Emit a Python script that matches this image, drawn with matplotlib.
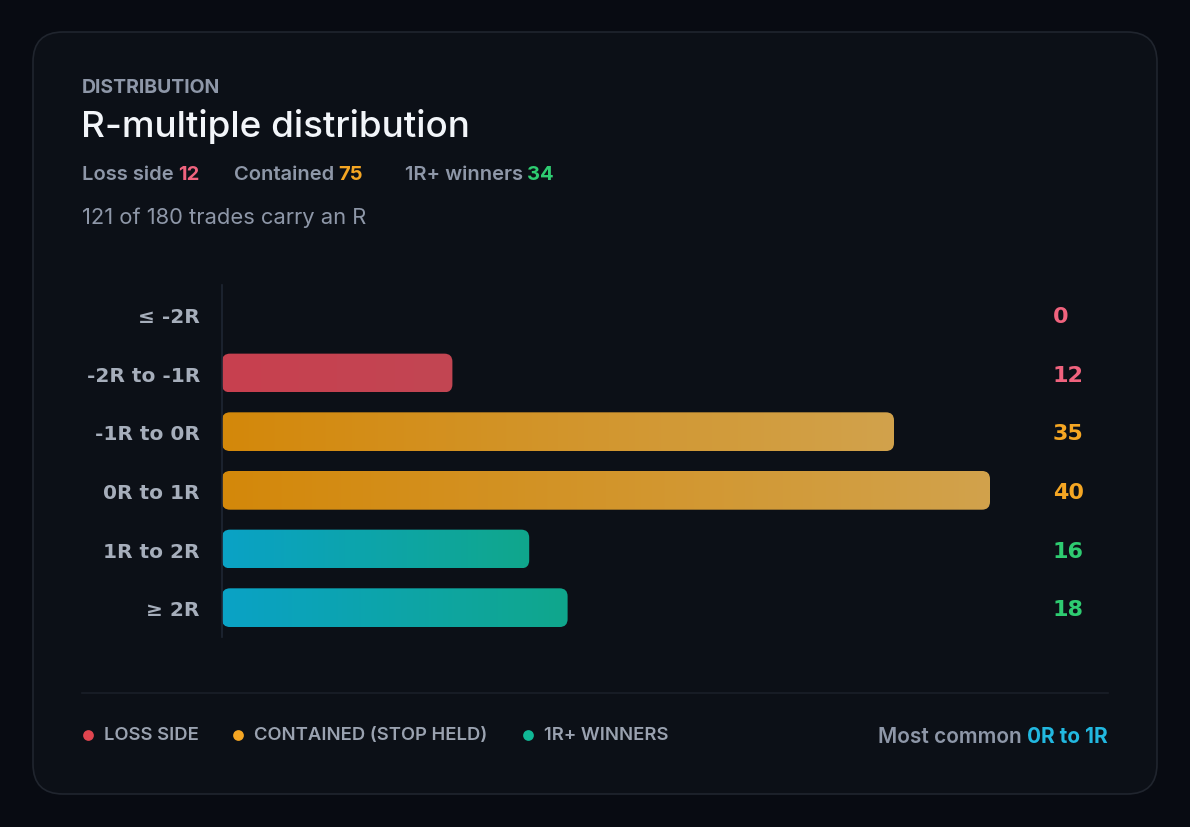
import numpy as np
import matplotlib
matplotlib.use("Agg")
import matplotlib.pyplot as plt
from matplotlib.patches import FancyBboxPatch
from matplotlib.colors import to_rgb

# --- data ---------------------------------------------------------------
buckets = ["≤ -2R", "-2R to -1R", "-1R to 0R", "0R to 1R", "1R to 2R", "≥ 2R"]
counts = [0, 12, 35, 40, 16, 18]
groups = ["loss", "loss", "contained", "contained", "win", "win"]
summary_labels = ["Loss side", "Contained", "1R+ winners"]
summary_values = [12, 75, 34]
legend_labels = ["LOSS SIDE", "CONTAINED (STOP HELD)", "1R+ WINNERS"]
total_trades = 180
most_common = "0R to 1R"

# --- styles -------------------------------------------------------------
W, H = 1190, 828
BG = "#080b12"
CARD = "#0c1017"
CARD_EDGE = "#20252e"
MUTED = "#8e97a8"
TICK = "#a6aebb"
grad = {"loss": ("#c8404f", "#c24653"),
        "contained": ("#d4880a", "#d1a24c"),
        "win": ("#0aa2c6", "#10a78c")}
txt_col = {"loss": "#f0637e", "contained": "#f5a623", "win": "#2ecc71"}
dot_col = {"loss": "#e0454f", "contained": "#f5a623", "win": "#10b896"}
HEAD = ["Inter", "Lato", "DejaVu Sans"]

fig = plt.figure(figsize=(W / 100, H / 100), dpi=100, facecolor=BG)

# pixel-space overlay for the card and text
bg = fig.add_axes([0, 0, 1, 1], zorder=0)
bg.set_xlim(0, W)
bg.set_ylim(H, 0)
bg.axis("off")
bg.add_patch(FancyBboxPatch((33, 33), 1124, 762,
                            boxstyle="round,pad=0,rounding_size=30",
                            fc=CARD, ec=CARD_EDGE, lw=1.2))

bg.text(82, 88, "DISTRIBUTION", fontsize=14, fontweight="bold",
        color=MUTED, family=HEAD, va="center")
bg.text(81, 127, "R-multiple distribution", fontsize=26.5, fontweight="medium",
        color="#f2f5f9", family=HEAD, va="center")

# summary line: label + coloured number pieces
xs = [82, 234, 405]
for x, lab, val, g in zip(xs, summary_labels, summary_values,
                          ["loss", "contained", "win"]):
    t = bg.text(x, 175, lab, fontsize=14.5, fontweight="semibold",
                color=MUTED, family=HEAD, va="center")
    bg.annotate(str(val), xy=(1, 0.5), xycoords=t, xytext=(3, 0),
                textcoords="offset points", va="center", fontsize=14.5,
                fontweight="bold", color=txt_col[g], family=HEAD)

carried = sum(counts)
bg.text(82, 218, f"{carried} of {total_trades} trades carry an R", fontsize=15.8,
        color=MUTED, family=HEAD, va="center")

# separator + legend
bg.plot([82, 1108], [694, 694], color="#1a1f28", lw=1.2)
for x, lab, g in zip([88, 238, 528], legend_labels,
                     ["loss", "contained", "win"]):
    bg.scatter([x], [736], s=60, color=dot_col[g], lw=0)
    bg.text(x + 16, 736, lab, fontsize=13.3, fontweight="semibold",
            color="#9aa2b0", family=HEAD, va="center")
mc = bg.text(1108, 737, most_common, fontsize=15, fontweight="bold",
             color="#22b8e0", family=HEAD, va="center", ha="right")
bg.annotate("Most common ", xy=(0, 0.5), xycoords=mc, xytext=(0, 0),
            textcoords="offset points", va="center", ha="right", fontsize=15,
            fontweight="semibold", color=MUTED, family=HEAD)

# --- bar chart ----------------------------------------------------------
xmax = 42
ax = fig.add_axes([222 / W, (H - 638) / H, xmax * 19.2 / W, 352 / H], zorder=1)
ax.set_facecolor("none")
bar_h = 0.66
px_x = 19.2          # pixels per count
px_y = 352 / 6       # pixels per category
radius = 8 / px_x
for i, (v, g) in enumerate(zip(counts, groups)):
    if v > 0:
        patch = FancyBboxPatch((0, i - bar_h / 2), v, bar_h,
                               boxstyle=f"round,pad=0,rounding_size={radius}",
                               mutation_aspect=px_x / px_y,
                               fc="none", ec="none")
        ax.add_patch(patch)
        c0, c1 = np.array(to_rgb(grad[g][0])), np.array(to_rgb(grad[g][1]))
        t = np.linspace(0, 1, 256)[None, :, None]
        img = c0 + (c1 - c0) * t
        im = ax.imshow(img, extent=[0, v, i + bar_h / 2, i - bar_h / 2],
                       aspect="auto", interpolation="bilinear")
        im.set_clip_path(patch)
    ax.text(43.28, i + 0.03, str(v), color=txt_col[g], fontsize=16,
            fontweight="bold", va="center", ha="left", clip_on=False)

ax.set_xlim(0, xmax)
ax.set_ylim(5.5, -0.5)
ax.set_yticks(range(len(buckets)))
ax.set_yticklabels(buckets, fontsize=14.5, fontweight="bold", color=TICK)
ax.tick_params(axis="y", length=0, pad=16)
ax.set_xticks([])
for s in ["top", "right", "bottom"]:
    ax.spines[s].set_visible(False)
ax.spines["left"].set_color("#1f2633")
ax.spines["left"].set_linewidth(1.2)

fig.savefig("out.png", dpi=100, facecolor=BG)
